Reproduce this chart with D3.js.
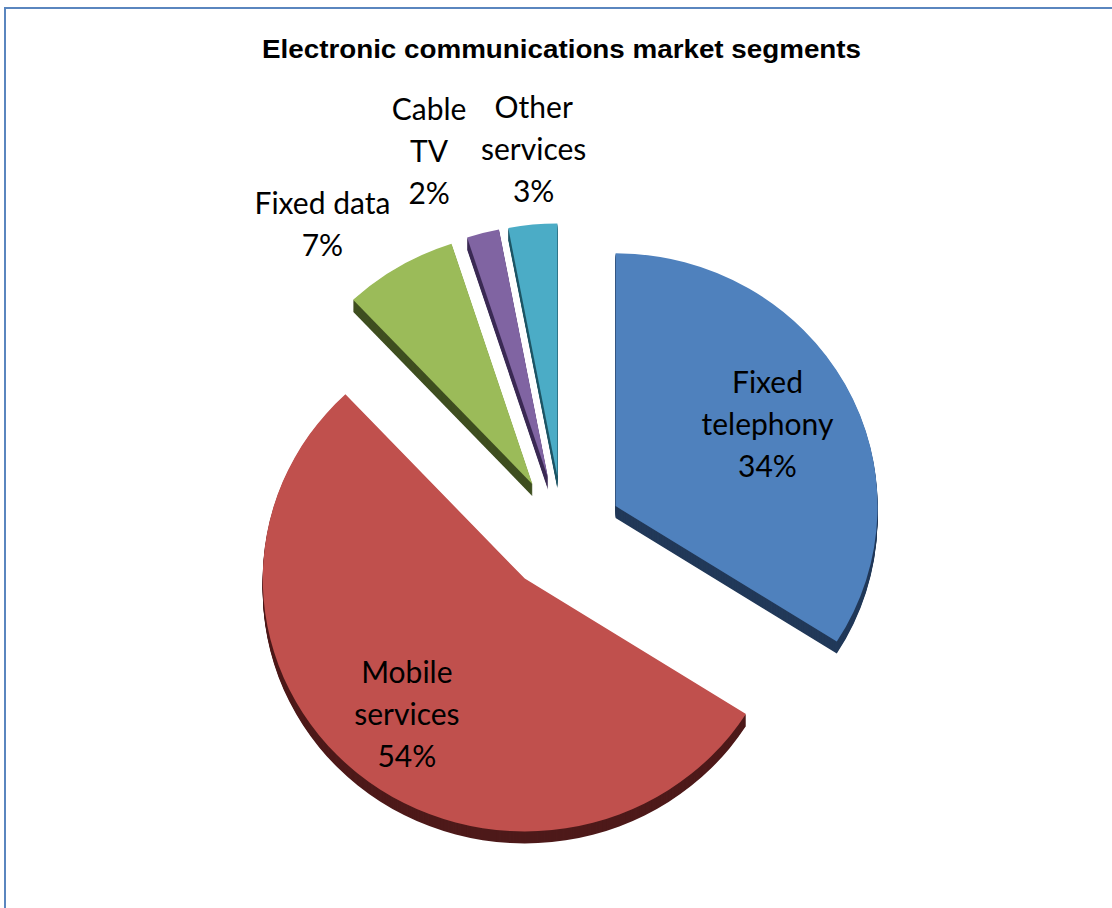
<!DOCTYPE html>
<html>
<head>
<meta charset="utf-8">
<script src="https://cdn.jsdelivr.net/npm/d3@7"></script>
<style>
  html, body { margin: 0; padding: 0; background: #ffffff; }
  svg { display: block; }
</style>
</head>
<body>
<svg id="chart" width="1112" height="908"></svg>
<script>
// ---- data ----
const chartTitle = "Electronic communications market segments";
const segments = ["Fixed telephony", "Mobile services", "Fixed data", "Cable TV", "Other services"];
const shares = [34, 54, 7, 2, 3];
const labelNameLines = [["Fixed", "telephony"], ["Mobile", "services"], ["Fixed data"], ["Cable", "TV"], ["Other", "services"]];

// ---- styling ----
const topColors  = ["#4F81BD", "#C0504D", "#9BBB59", "#8064A2", "#4BACC6"];
const sideColors = ["#223959", "#4E1A1A", "#3F4F21", "#3C2B55", "#1F5666"];

// ---- layout ----
const W = 1112, H = 908;
const cx = 563, cy = 534;       // pie centre on screen
const tilt = 0.965;             // vertical foreshortening of the pie plane
const radius = 262;
const explode = 60;             // distance each slice is pulled out
const depth = 12;               // thickness of the pie in screen px
const lineHeight = 42, capHeight = 21;
// label anchor per slice: [angle in degrees, distance as a fraction of radius], measured from the slice tip
const labelPolar = [[61, 0.663], [220, 0.70], [322, 1.302], [340.6, 1.367], [356, 1.294]];

const data = segments.map((name, i) => ({ name, share: shares[i], lines: labelNameLines[i] }));

const svg = d3.select("#chart");

// chart frame
svg.append("rect")
  .attr("x", 5).attr("y", 8)
  .attr("width", W + 20).attr("height", H + 20)
  .attr("fill", "#ffffff")
  .attr("stroke", "#5A86BF")
  .attr("stroke-width", 2);

// title
svg.append("text")
  .attr("x", 561.5).attr("y", 58)
  .attr("text-anchor", "middle")
  .attr("font-family", "'Liberation Sans', Arial, sans-serif")
  .attr("font-weight", "bold")
  .attr("font-size", 25.5)
  .attr("textLength", 599)
  .attr("lengthAdjust", "spacingAndGlyphs")
  .attr("fill", "#000")
  .text(chartTitle);

// pie geometry
const pie = d3.pie().sort(null).value(d => d.share).startAngle(0).endAngle(2 * Math.PI);
const arcs = pie(data);
const arc = d3.arc().innerRadius(0).outerRadius(radius);
const midAngle = a => (a.startAngle + a.endAngle) / 2;
const offsetOf = a => [explode * Math.sin(midAngle(a)), -explode * Math.cos(midAngle(a))];

const plane = svg.append("g")
  .attr("transform", `translate(${cx},${cy}) scale(1,${tilt})`);

// side walls: stacked copies shifted downward
const sides = plane.append("g").attr("class", "sides");
arcs.forEach((a, i) => {
  const [ox, oy] = offsetOf(a);
  sides.selectAll(null)
    .data(d3.range(depth, 0, -1))
    .join("path")
    .attr("d", arc(a))
    .attr("transform", k => `translate(${ox},${oy + k / tilt})`)
    .attr("fill", sideColors[i]);
});

// top faces
plane.append("g").attr("class", "tops")
  .selectAll("path")
  .data(arcs)
  .join("path")
  .attr("d", arc)
  .attr("transform", a => { const [ox, oy] = offsetOf(a); return `translate(${ox},${oy})`; })
  .attr("fill", (a, i) => topColors[i]);

// data labels
const labels = svg.append("g").attr("class", "labels")
  .attr("font-family", "Lato, 'Open Sans', sans-serif")
  .attr("font-size", 30)
  .attr("fill", "#000")
  .attr("text-anchor", "middle");

arcs.forEach((a, i) => {
  const [ox, oy] = offsetOf(a);
  const [angDeg, frac] = labelPolar[i];
  const ang = angDeg * Math.PI / 180;
  const px = ox + frac * radius * Math.sin(ang);
  const py = oy - frac * radius * Math.cos(ang);
  const lx = cx + px, ly = cy + py * tilt;
  const lines = [...a.data.lines, `${a.data.share}%`];
  const firstBaseline = ly - (lines.length - 1) * lineHeight / 2 + capHeight / 2;
  const t = labels.append("text");
  lines.forEach((ln, j) => {
    t.append("tspan").attr("x", lx).attr("y", firstBaseline + j * lineHeight).text(ln);
  });
});
</script>
</body>
</html>
